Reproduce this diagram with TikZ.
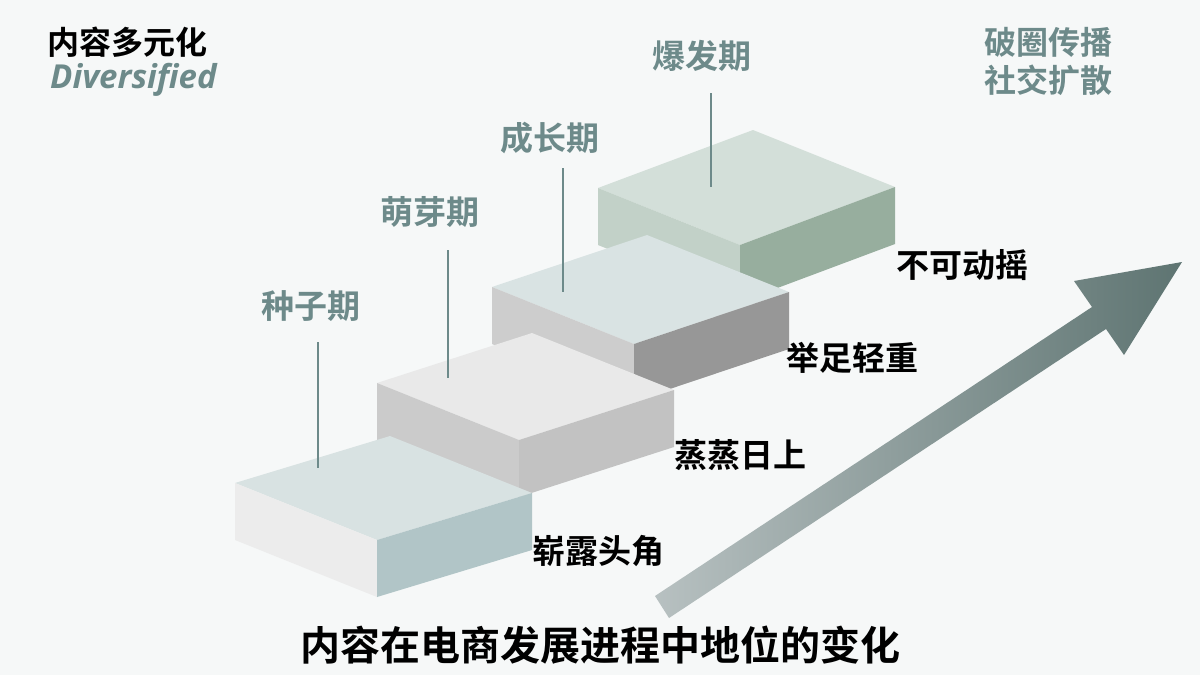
\documentclass[tikz,border=0pt]{standalone}
\usepackage{fontspec}
\setmainfont{Noto Sans CJK SC}
\newfontfamily\cjkb{Noto Sans CJK SC Bold}
\newfontfamily\latb{Open Sans}
\begin{document}
\begin{tikzpicture}[x=1pt,y=-1pt,
  lbl/.style={font=\cjkb\fontsize{33}{33}\selectfont,text=labgray,inner sep=0},
  rlbl/.style={font=\cjkb\fontsize{33}{33}\selectfont,text=black,inner sep=0},
  stem/.style={draw=labgray,line width=1.2pt}]
\definecolor{bg}{HTML}{F6F8F8}
\definecolor{labgray}{HTML}{6D8A8A}
\fill[bg] (0,0) rectangle (1200,675);
\useasboundingbox (0,0) rectangle (1200,675);
% #1 corner, #2 top, #3 left, #4 right, #5 depth rise
\newcommand{\stepbox}[5]{%
  \fill[#2] (#1) -- ++(142,57) -- ++(155,-#5) -- ++(-142,-57) -- cycle;
  \fill[#3] (#1) -- ++(142,57) -- ++(0,57) -- ++(-142,-57) -- cycle;
  \fill[#4] (#1) ++(142,57) -- ++(155,-#5) -- ++(0,57) -- ++(-155,#5) -- cycle;}
\definecolor{tA}{HTML}{D3DFD9}\definecolor{lA}{HTML}{C2D1C8}\definecolor{rA}{HTML}{97AE9E}
\definecolor{tB}{HTML}{D9E3E3}\definecolor{lB}{HTML}{CDCDCD}\definecolor{rB}{HTML}{979797}
\definecolor{tC}{HTML}{E9E9E9}\definecolor{lC}{HTML}{CBCBCB}\definecolor{rC}{HTML}{C2C2C2}
\definecolor{tD}{HTML}{D8E2E2}\definecolor{lD}{HTML}{ECECEC}\definecolor{rD}{HTML}{B1C5C7}
\coordinate (s4) at (598,188);
\coordinate (s3) at (492,287);
\coordinate (s2) at (377,383);
\coordinate (s1) at (235,483);
\stepbox{s4}{tA}{lA}{rA}{58}
\stepbox{s3}{tB}{lB}{rB}{52}
\stepbox{s2}{tC}{lC}{rC}{50}
\stepbox{s1}{tD}{lD}{rD}{47}
\node[lbl] (p1) at (311,306) {种子期};
\node[lbl] (p2) at (430,212) {萌芽期};
\node[lbl] (p3) at (550,138) {成长期};
\node[lbl] (p4) at (702,56) {爆发期};
\coordinate (e1) at (318,468); \coordinate (e2) at (448,378);
\coordinate (e3) at (563,292); \coordinate (e4) at (711,187);
\draw[stem] (318,342) -- (e1);
\draw[stem] (448,250) -- (e2);
\draw[stem] (563,168) -- (e3);
\draw[stem] (711,93) -- (e4);
\node[rlbl] (r1) at (598,551) {崭露头角};
\node[rlbl] (r2) at (740,455) {蒸蒸日上};
\node[rlbl] (r3) at (852,358) {举足轻重};
\node[rlbl] (r4) at (962,265) {不可动摇};
\shade[left color=gray!35!tD!80!rD, right color=labgray!80!rA!80!black]
  (669,618) -- (1106,329) -- (1124,355) -- (1182,262) -- (1074,281) -- (1092,307) -- (655,596) -- cycle;
\node[anchor=west,inner sep=0,font=\cjkb\fontsize{32}{32}\selectfont] (t1) at (47,42) {内容多元化};
\node[anchor=west,inner sep=0,font=\latb\bfseries\itshape\fontsize{33}{33}\selectfont,text=labgray] (t2) at (50,80) {Diversified};
\node[anchor=west,inner sep=0,font=\cjkb\fontsize{32}{32}\selectfont,text=labgray] (t3) at (984,42) {破圈传播};
\node[anchor=west,inner sep=0,font=\cjkb\fontsize{32}{32}\selectfont,text=labgray] (t4) at (984,80) {社交扩散};
\node[inner sep=0,font=\cjkb\fontsize{40}{40}\selectfont] (title) at (600,645) {内容在电商发展进程中地位的变化};
\end{tikzpicture}
\end{document}
